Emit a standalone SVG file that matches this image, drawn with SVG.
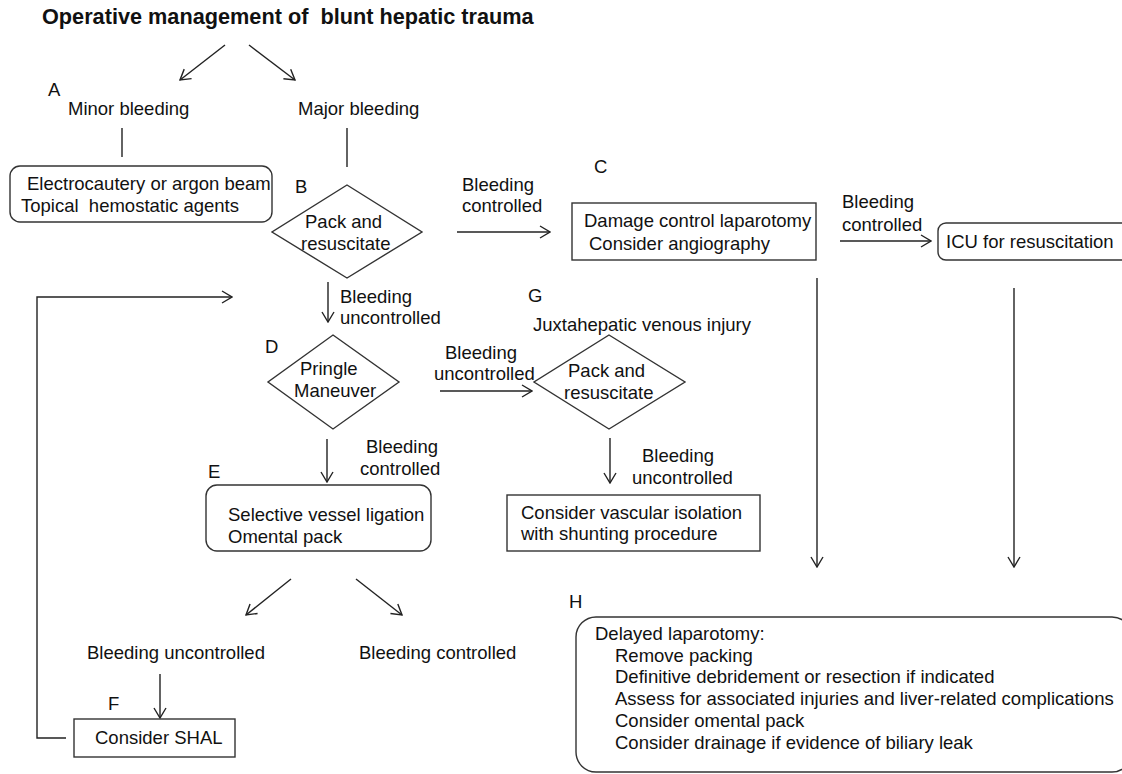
<svg xmlns="http://www.w3.org/2000/svg" width="1122" height="774" viewBox="0 0 1122 774">
<style>
text{font-family:"Liberation Sans",Arial,sans-serif;font-size:18.5px;fill:#111;white-space:pre}
.title{font-size:21.7px;font-weight:bold}
.box{fill:#fff;stroke:#333;stroke-width:1.4}
.ln{fill:none;stroke:#222;stroke-width:1.4}
.arr{fill:none;stroke:#222;stroke-width:1.4;marker-end:url(#ah)}
</style>
<defs>
<marker id="ah" viewBox="0 0 12 14" refX="11" refY="7" markerWidth="12" markerHeight="14" markerUnits="userSpaceOnUse" orient="auto">
<path d="M1,1 L11,7 L1,13" fill="none" stroke="#222" stroke-width="1.4"/>
</marker>
</defs>
<rect width="1122" height="774" fill="#fff"/>
<g id="title"><text class="title" x="42" y="24">Operative management of&#160; blunt hepatic trauma</text></g>

<g id="connectors">
<line class="arr" x1="225" y1="45" x2="180" y2="80"/>
<line class="arr" x1="249" y1="45" x2="295" y2="80"/>
<line class="ln" x1="122" y1="128" x2="122" y2="157"/>
<line class="ln" x1="347" y1="128" x2="347" y2="167"/>
<line class="arr" x1="457" y1="232" x2="550" y2="232"/>
<line class="arr" x1="840" y1="241" x2="931" y2="241"/>
<line class="arr" x1="328" y1="282" x2="328" y2="322"/>
<line class="arr" x1="440" y1="391" x2="532" y2="391"/>
<line class="arr" x1="327" y1="439" x2="327" y2="482"/>
<line class="arr" x1="610" y1="438" x2="610" y2="483"/>
<line class="arr" x1="817" y1="278" x2="817" y2="567"/>
<line class="arr" x1="1014" y1="288" x2="1014" y2="567"/>
<line class="arr" x1="291" y1="579" x2="246" y2="615"/>
<line class="arr" x1="356" y1="579" x2="402" y2="615"/>
<line class="arr" x1="160" y1="674" x2="160" y2="718"/>
<polyline class="arr" points="66,738 37,738 37,297 232,297"/>
<text x="462" y="191">Bleeding</text>
<text x="462" y="212">controlled</text>
<text x="842" y="208">Bleeding</text>
<text x="842" y="231">controlled</text>
<text x="340" y="303">Bleeding</text>
<text x="340" y="324">uncontrolled</text>
<text x="445" y="359">Bleeding</text>
<text x="434" y="380">uncontrolled</text>
<text x="366" y="453">Bleeding</text>
<text x="360" y="475">controlled</text>
<text x="642" y="462">Bleeding</text>
<text x="632" y="484">uncontrolled</text>
</g>

<g id="nodeA">
<text x="48" y="96">A</text>
<text x="68" y="115">Minor bleeding</text>
<rect class="box" x="10" y="166" width="262" height="56" rx="10"/>
<text x="27" y="190">Electrocautery or argon beam</text>
<text x="21" y="212">Topical&#160; hemostatic agents</text>
</g>

<g id="nodeMajor">
<text x="298" y="115">Major bleeding</text>
</g>

<g id="nodeB">
<text x="295" y="193">B</text>
<polygon class="box" points="347,185 422,232 347,278 272,232"/>
<text x="305" y="228">Pack and</text>
<text x="301" y="250">resuscitate</text>
</g>

<g id="nodeC">
<text x="594" y="173">C</text>
<rect class="box" x="572" y="203" width="244" height="57"/>
<text x="584" y="227">Damage control laparotomy</text>
<text x="589" y="250">Consider angiography</text>
</g>

<g id="nodeICU">
<rect class="box" x="938" y="223" width="200" height="37" rx="8"/>
<text x="946" y="248">ICU for resuscitation</text>
</g>

<g id="nodeD">
<text x="265" y="353">D</text>
<polygon class="box" points="333,335 399,382 333,429 268,382"/>
<text x="300" y="375">Pringle</text>
<text x="294" y="397">Maneuver</text>
</g>

<g id="nodeG">
<text x="528" y="302">G</text>
<text x="533" y="331">Juxtahepatic venous injury</text>
<polygon class="box" points="609,335 685,382 609,429 534,382"/>
<text x="568" y="377">Pack and</text>
<text x="564" y="399">resuscitate</text>
</g>

<g id="nodeVascular">
<rect class="box" x="507" y="495" width="253" height="56"/>
<text x="521" y="519">Consider vascular isolation</text>
<text x="521" y="540">with shunting procedure</text>
</g>

<g id="nodeE">
<text x="208" y="478">E</text>
<rect class="box" x="206" y="485" width="225" height="66" rx="11"/>
<text x="228" y="521">Selective vessel ligation</text>
<text x="228" y="543">Omental pack</text>
</g>

<g id="nodeOutcomes">
<text x="87" y="659">Bleeding uncontrolled</text>
<text x="359" y="659">Bleeding controlled</text>
</g>

<g id="nodeF">
<text x="108" y="710">F</text>
<rect class="box" x="74" y="719" width="161" height="38"/>
<text x="95" y="744">Consider SHAL</text>
</g>

<g id="nodeH">
<text x="569" y="608">H</text>
<rect class="box" x="576" y="617" width="556" height="155" rx="20"/>
<text x="595" y="640">Delayed laparotomy:</text>
<text x="615" y="662">Remove packing</text>
<text x="615" y="683">Definitive debridement or resection if indicated</text>
<text x="615" y="705">Assess for associated injuries and liver-related complications</text>
<text x="615" y="727">Consider omental pack</text>
<text x="615" y="749">Consider drainage if evidence of biliary leak</text>
</g>
</svg>
